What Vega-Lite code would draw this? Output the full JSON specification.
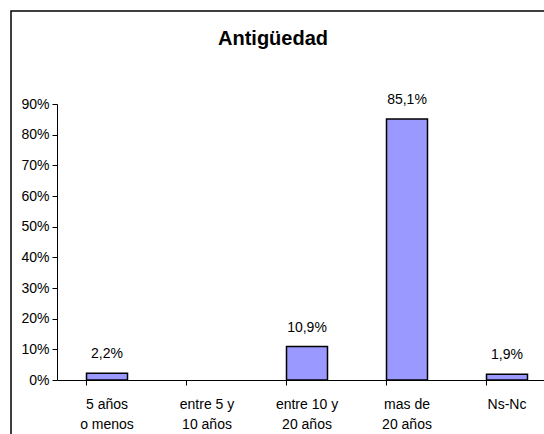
{
  "$schema": "https://vega.github.io/schema/vega-lite/v6.json",
  "autosize": {"type": "none"},
  "padding": {"left": 11, "top": 11, "right": 0, "bottom": 0},
  "width": 540,
  "height": 440,
  "background": "white",
  "config": {
    "locale": {"number": {"decimal": ",", "thousands": ".", "grouping": [3], "currency": ["", " €"]}},
    "view": {"stroke": "black", "strokeWidth": 1.5},
    "font": "Liberation Sans",
    "axis": {"grid": false, "domainColor": "black", "tickColor": "black", "labelColor": "black", "labelFont": "Liberation Sans", "labelFontSize": 14, "title": null}
  },
  "title": {"text": "Antigüedad", "font": "Liberation Sans", "fontSize": 20, "fontWeight": "bold", "color": "black", "anchor": "middle", "dx": -8, "dy": 20, "offset": -34, "baseline": "alphabetic"},
  "data": {"values": [
    {"cat": "5 años\no menos", "pct": 0.022},
    {"cat": "entre 5 y\n10 años", "pct": null},
    {"cat": "entre 10 y\n20 años", "pct": 0.109},
    {"cat": "mas de\n20 años", "pct": 0.851},
    {"cat": "Ns-Nc", "pct": 0.019}
  ]},
  "encoding": {
    "x": {"field": "cat", "type": "nominal", "sort": null,
      "scale": {"domain": ["5 años\no menos", "entre 5 y\n10 años", "entre 10 y\n20 años", "mas de\n20 años", "Ns-Nc"], "range": [46, 546], "paddingInner": 0.59, "paddingOuter": 0.295},
      "axis": {"orient": "bottom", "offset": -71, "labelAngle": 0, "bandPosition": 0, "tickSize": 5, "labelPadding": 12, "labelLineHeight": 20, "labelExpr": "split(datum.value, '\\n')", "domainWidth": 1}},
    "y": {"field": "pct", "type": "quantitative",
      "scale": {"domain": [0, 0.9], "nice": false, "range": [369, 93]},
      "axis": {"offset": -46, "values": [0, 0.1, 0.2, 0.3, 0.4, 0.5, 0.6, 0.7, 0.8, 0.9], "format": ".0%", "tickSize": 5, "labelPadding": 3}}
  },
  "layer": [
    {"mark": {"type": "bar", "fill": "#9999FF", "stroke": "black", "strokeWidth": 1.5}},
    {"mark": {"type": "text", "baseline": "bottom", "dy": -12, "fontSize": 14, "color": "black"},
     "encoding": {"text": {"field": "pct", "type": "quantitative", "format": ".1%"}}}
  ]
}
